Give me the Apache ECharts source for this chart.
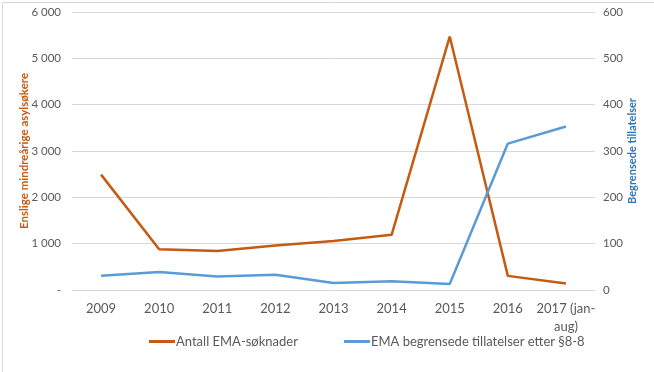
<!DOCTYPE html>
<html>
<head>
<meta charset="utf-8">
<script src="https://cdn.jsdelivr.net/npm/echarts@6/dist/echarts.min.js"></script>
<style>
html,body{margin:0;padding:0;background:#fff;}
#c{width:654px;height:372px;}
</style>
</head>
<body>
<div id="c"></div>
<script>
const categories = ['2009','2010','2011','2012','2013','2014','2015','2016','2017 (jan-\naug)'];
const soknader = [2490, 880, 840, 960, 1060, 1190, 5470, 305, 140];
const tillatelser = [31, 39, 29, 33, 15, 19, 13, 316, 353];
const leftTicks = { min: 0, max: 6000, interval: 1000 };
const rightTicks = { min: 0, max: 600, interval: 100 };
const seriesNames = ['Antall EMA-søknader', 'EMA begrensede tillatelser etter §8-8'];
const axisNames = ['Enslige mindreårige asylsøkere', 'Begrensede tillatelser'];

const font = 'Lato';
const chart = echarts.init(document.getElementById('c'));
chart.setOption({
  animation: false,
  textStyle: { fontFamily: font },
  graphic: [{
    type: 'rect', left: 0, top: 0,
    shape: { x: 0.5, y: 0.5, width: 653, height: 371 },
    style: { fill: 'none', stroke: '#d9d9d9', lineWidth: 1 }
  }],
  grid: { left: 72, right: 59, top: 12, bottom: 82 },
  legend: {
    data: [
      { name: seriesNames[0], icon: 'rect' },
      { name: seriesNames[1], icon: 'rect' }
    ],
    bottom: 19, left: 144,
    itemWidth: 26, itemHeight: 3, itemGap: 46,
    textStyle: { color: '#595959', fontSize: 13, fontFamily: font, padding: [0, 0, 0, -4] }
  },
  xAxis: {
    type: 'category', data: categories, boundaryGap: true,
    axisLine: { show: false }, axisTick: { show: false },
    axisLabel: { color: '#595959', fontSize: 13, margin: 10, lineHeight: 18, interval: 0 }
  },
  yAxis: [{
    type: 'value', min: leftTicks.min, max: leftTicks.max, interval: leftTicks.interval,
    name: axisNames[0], nameLocation: 'middle', nameGap: 42, nameRotate: 90,
    nameMoveOverlap: false,
    nameTextStyle: { color: '#C55A11', fontWeight: 'bold', fontSize: 11.5 },
    axisLine: { show: false }, axisTick: { show: false },
    splitLine: { lineStyle: { color: '#d9d9d9', width: 1 } },
    axisLabel: {
      color: '#595959', fontSize: 11.5, margin: 11,
      formatter: v => v === 0 ? '-' : String(v).replace(/\B(?=(\d{3})+(?!\d))/g, ' ')
    }
  }, {
    type: 'value', min: rightTicks.min, max: rightTicks.max, interval: rightTicks.interval,
    name: axisNames[1], nameLocation: 'middle', nameGap: 32, nameRotate: 90,
    nameMoveOverlap: false,
    nameTextStyle: { color: '#2E75B6', fontWeight: 'bold', fontSize: 11 },
    axisLine: { show: false }, axisTick: { show: false },
    splitLine: { show: false },
    axisLabel: { color: '#595959', fontSize: 11.5, margin: 8 }
  }],
  series: [{
    name: seriesNames[0], type: 'line', yAxisIndex: 0, data: soknader,
    showSymbol: false, symbol: 'none',
    lineStyle: { color: '#C55A11', width: 2.5 }, itemStyle: { color: '#C55A11' }
  }, {
    name: seriesNames[1], type: 'line', yAxisIndex: 1, data: tillatelser,
    showSymbol: false, symbol: 'none',
    lineStyle: { color: '#5B9BD5', width: 2.5 }, itemStyle: { color: '#5B9BD5' }
  }]
});
</script>
</body>
</html>
